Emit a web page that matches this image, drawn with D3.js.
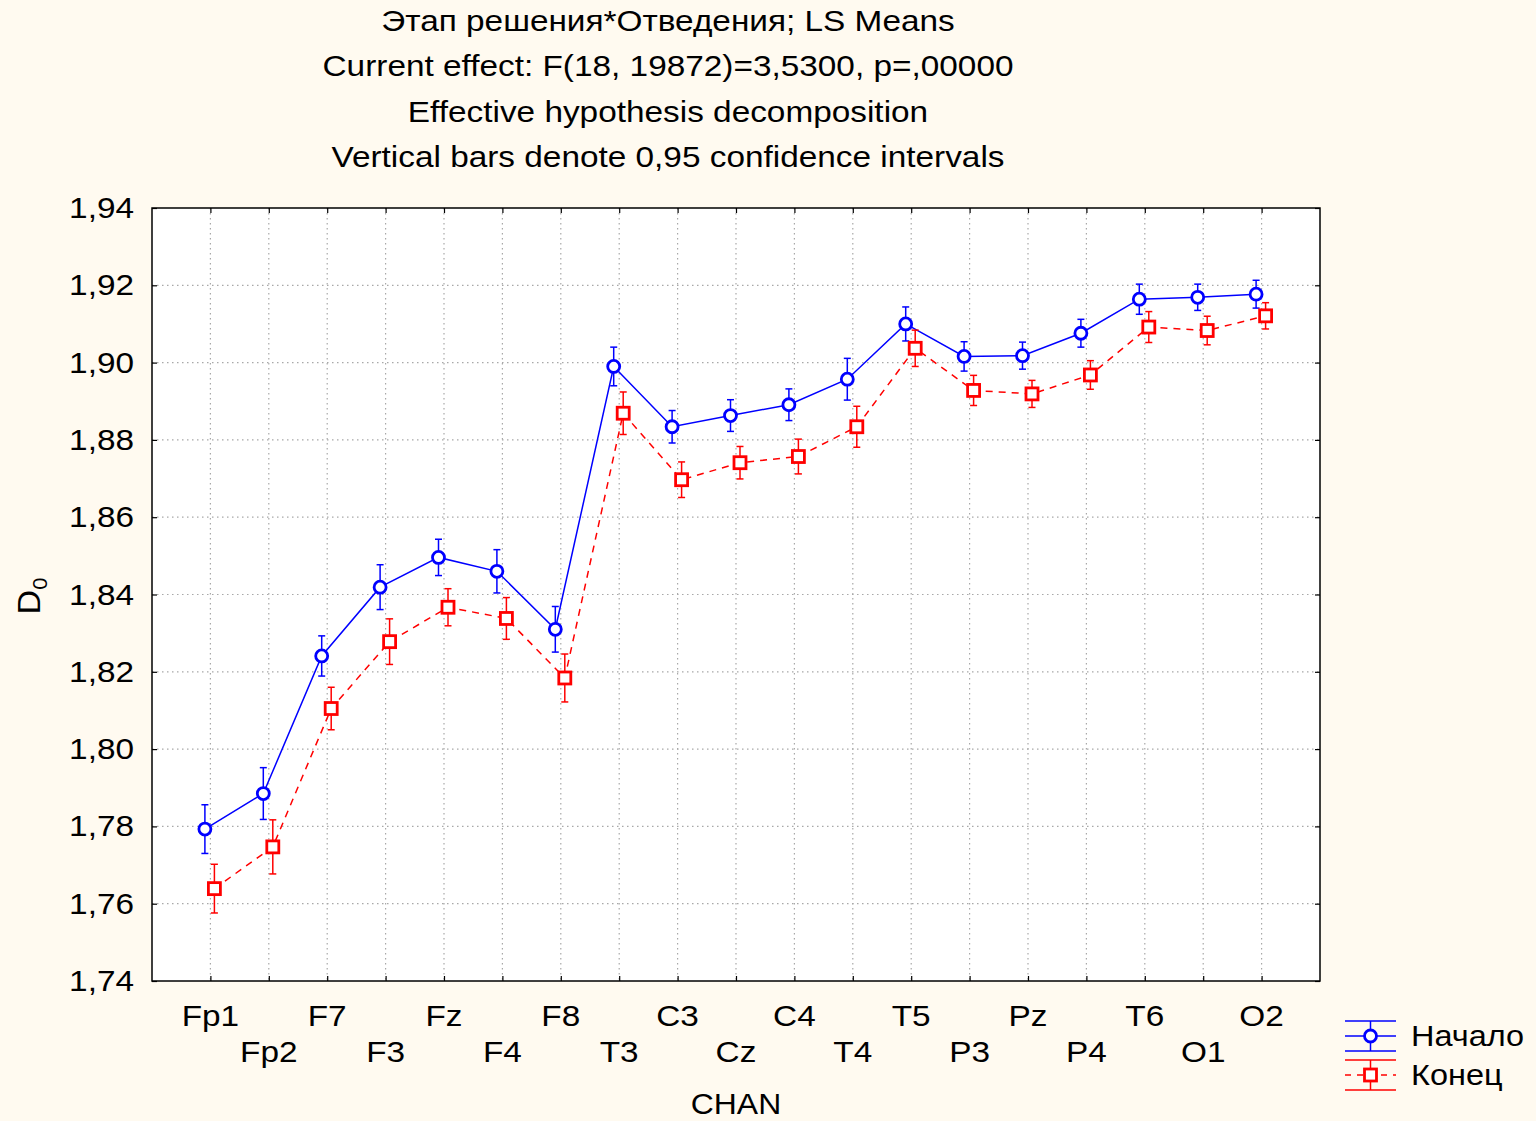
<!DOCTYPE html>
<html>
<head>
<meta charset="utf-8">
<script src="https://cdn.jsdelivr.net/npm/d3@7"></script>
<style>
  html, body { margin: 0; padding: 0; background: #fffaf0; }
  svg { display: block; font-family: "Liberation Sans", Arial, sans-serif; }
</style>
</head>
<body>
<svg id="chart" width="1536" height="1121"></svg>
<script>
// EEG channels
const channels = ["Fp1","Fp2","F7","F3","Fz","F4","F8","T3","C3","Cz","C4","T4","T5","P3","Pz","P4","T6","O1","O2"];

// LS means of D0 per channel, start of solving ("Начало")
const startMeans = [1.7793,1.7885,1.8241,1.8419,1.8496,1.8460,1.8310,1.8990,1.8834,1.8863,1.8891,1.8957,1.9100,1.9016,1.9018,1.9076,1.9164,1.9169,1.9177];
// half-width of the 0,95 confidence interval
const startCI = [0.0063,0.0067,0.0052,0.0058,0.0047,0.0056,0.0059,0.0050,0.0042,0.0041,0.0041,0.0054,0.0044,0.0038,0.0035,0.0036,0.0039,0.0034,0.0036];

// LS means of D0 per channel, end of solving ("Конец")
const endMeans = [1.7639,1.7747,1.8105,1.8278,1.8367,1.8338,1.8184,1.8869,1.8697,1.8741,1.8757,1.8834,1.9037,1.8928,1.8919,1.8968,1.9092,1.9083,1.9121];
const endCI = [0.0063,0.0070,0.0055,0.0059,0.0048,0.0054,0.0062,0.0055,0.0046,0.0042,0.0045,0.0053,0.0047,0.0039,0.0035,0.0037,0.0040,0.0037,0.0034];

const yTicks = [1.74,1.76,1.78,1.80,1.82,1.84,1.86,1.88,1.90,1.92,1.94];

const titleLines = [
  "Этап решения*Отведения; LS Means",
  "Current effect: F(18, 19872)=3,5300, p=,00000",
  "Effective hypothesis decomposition",
  "Vertical bars denote 0,95 confidence intervals"
];

const FS = 29;     // font size
const SX = 1.15;   // horizontal stretch of the lettering

const svg = d3.select("#chart");
const m = { left: 152, top: 208, right: 1320, bottom: 981 };
const W = m.right - m.left, H = m.bottom - m.top;

const x = d3.scalePoint().domain(channels).range([0, W]).padding(1);
const y = d3.scaleLinear().domain([1.74, 1.94]).range([H, 0]);
const fmt = v => d3.format(".2f")(v).replace(".", ",");

// wide lettering: text placed at (tx, ty) and stretched horizontally
function label(parent, tx, ty, str, anchor = "middle", sx = SX) {
  return parent.append("text")
    .attr("transform", `translate(${tx},${ty}) scale(${sx},1)`)
    .attr("text-anchor", anchor).attr("font-size", FS).attr("fill", "#000")
    .text(str);
}

// titles
titleLines.forEach((t, i) => label(svg, 668, 31 + i * 45.3, t));

const g = svg.append("g").attr("transform", `translate(${m.left},${m.top})`);

// plot background
g.append("rect").attr("width", W).attr("height", H).attr("fill", "#fff");

// dotted grid
g.append("g").selectAll("line").data(yTicks.slice(1, -1)).join("line")
  .attr("x1", 0).attr("x2", W).attr("y1", d => y(d)).attr("y2", d => y(d))
  .attr("stroke", "#a8a8a8").attr("stroke-width", 1.2).attr("stroke-dasharray", "1.5,3.5");
g.append("g").selectAll("line").data(channels).join("line")
  .attr("y1", 0).attr("y2", H).attr("x1", d => x(d)).attr("x2", d => x(d))
  .attr("stroke", "#a8a8a8").attr("stroke-width", 1.2).attr("stroke-dasharray", "1.5,3.5");

// axes with inward ticks
const yAxisL = g.append("g").call(d3.axisLeft(y).tickValues(yTicks).tickSize(-5).tickFormat(""));
const yAxisR = g.append("g").attr("transform", `translate(${W},0)`)
  .call(d3.axisRight(y).tickValues(yTicks).tickSize(-5).tickFormat(""));
const xAxisB = g.append("g").attr("transform", `translate(0,${H})`)
  .call(d3.axisBottom(x).tickSize(-5).tickFormat(""));
const xAxisT = g.append("g")
  .call(d3.axisTop(x).tickSize(-5).tickFormat(""));
[yAxisL, yAxisR, xAxisB, xAxisT].forEach(a => {
  a.select(".domain").remove();
  a.selectAll(".tick line").attr("stroke", "#000").attr("stroke-width", 1.2);
});

// y tick labels
yTicks.forEach(t => label(g, -18, y(t) + 10, fmt(t), "end"));

// frame
g.append("rect").attr("width", W).attr("height", H).attr("fill", "none")
  .attr("stroke", "#000").attr("stroke-width", 1.5);

// staggered category labels
channels.forEach((c, i) => label(g, x(c), H + (i % 2 === 0 ? 45 : 81), c));

// axis titles
label(svg, 736, 1114, "CHAN", "middle", 1.1);
const yt = svg.append("text").attr("transform", "translate(40,596) rotate(-90) scale(1.1,1)")
  .attr("text-anchor", "middle").attr("font-size", 31).attr("fill", "#000");
yt.append("tspan").text("D");
yt.append("tspan").attr("font-size", 20).attr("dy", 7).text("0");

// series
const series = [
  { means: startMeans, ci: startCI, color: "#0000ff", dx: -5.5, dash: null, marker: "circle" },
  { means: endMeans, ci: endCI, color: "#ff0000", dx: 4, dash: "7,6", marker: "square" }
];

series.forEach(s => {
  const pts = channels.map((c, i) => ({ c, v: s.means[i], e: s.ci[i], px: x(c) + s.dx }));
  const sg = g.append("g");
  sg.append("path").datum(pts)
    .attr("d", d3.line().x(d => d.px).y(d => y(d.v)))
    .attr("fill", "none").attr("stroke", s.color).attr("stroke-width", 1.5)
    .attr("stroke-dasharray", s.dash);
  // confidence bars
  const eb = sg.append("g").attr("stroke", s.color).attr("stroke-width", 1.5);
  eb.selectAll("line.v").data(pts).join("line").attr("class", "v")
    .attr("x1", d => d.px).attr("x2", d => d.px)
    .attr("y1", d => y(d.v - d.e)).attr("y2", d => y(d.v + d.e));
  eb.selectAll("line.t").data(pts).join("line").attr("class", "t")
    .attr("x1", d => d.px - 3.5).attr("x2", d => d.px + 3.5)
    .attr("y1", d => y(d.v + d.e)).attr("y2", d => y(d.v + d.e));
  eb.selectAll("line.b").data(pts).join("line").attr("class", "b")
    .attr("x1", d => d.px - 3.5).attr("x2", d => d.px + 3.5)
    .attr("y1", d => y(d.v - d.e)).attr("y2", d => y(d.v - d.e));
  // markers
  if (s.marker === "circle") {
    sg.selectAll("circle").data(pts).join("circle")
      .attr("cx", d => d.px).attr("cy", d => y(d.v)).attr("r", 6)
      .attr("fill", "#fff").attr("stroke", s.color).attr("stroke-width", 2.8);
  } else {
    sg.selectAll("rect.mk").data(pts).join("rect").attr("class", "mk")
      .attr("x", d => d.px - 6).attr("y", d => y(d.v) - 6)
      .attr("width", 12).attr("height", 12)
      .attr("fill", "#fff").attr("stroke", s.color).attr("stroke-width", 2.8);
  }
});

// legend
const legend = svg.append("g");
const legendItems = [
  { label: "Начало", color: "#0000ff", cy: 1036, dash: null, marker: "circle" },
  { label: "Конец", color: "#ff0000", cy: 1075, dash: "6,6", marker: "square" }
];
legendItems.forEach(it => {
  const lg = legend.append("g").attr("stroke", it.color).attr("stroke-width", 1.5);
  [-15, 15].forEach(o => lg.append("line").attr("x1", 1345).attr("x2", 1396)
    .attr("y1", it.cy + o).attr("y2", it.cy + o));
  lg.append("line").attr("x1", 1345).attr("x2", 1396).attr("y1", it.cy).attr("y2", it.cy)
    .attr("stroke-dasharray", it.dash);
  lg.append("line").attr("x1", 1370.5).attr("x2", 1370.5).attr("y1", it.cy - 15).attr("y2", it.cy + 15);
  if (it.marker === "circle") {
    lg.append("circle").attr("cx", 1370.5).attr("cy", it.cy).attr("r", 6)
      .attr("fill", "#fff").attr("stroke-width", 2.8);
  } else {
    lg.append("rect").attr("x", 1364.5).attr("y", it.cy - 6).attr("width", 12).attr("height", 12)
      .attr("fill", "#fff").attr("stroke-width", 2.8);
  }
  label(legend, 1411, it.cy + 10, it.label, "start", 1.12);
});
</script>
</body>
</html>
